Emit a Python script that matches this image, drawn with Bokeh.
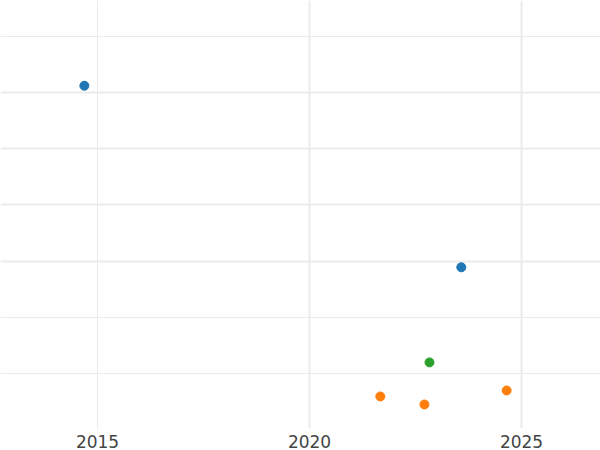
from bokeh.plotting import figure
from bokeh.models import Range1d, FixedTicker, Grid
from bokeh.embed import file_html
from bokeh.resources import INLINE

# data
blue_x = [2014.69, 2023.58]
blue_y = [6.125, 2.89]
orange_x = [2021.67, 2022.71, 2024.65]
orange_y = [0.589, 0.446, 0.696]
green_x = [2022.83]
green_y = [1.196]
x_ticks = [2015, 2020, 2025]
x_major_grid = [2020, 2025]
x_minor_grid = [2015]
y_major_grid = [3, 4, 5, 6]
y_minor_grid = [1, 2, 7]

p = figure(width=600, height=450, output_backend="svg", toolbar_location=None,
           x_range=Range1d(2012.712, 2026.863), y_range=Range1d(0.018, 7.643),
           min_border_left=0, min_border_right=0, min_border_top=0, min_border_bottom=0,
           outline_line_color=None)
p.yaxis.visible = False
p.xgrid.visible = False
p.ygrid.visible = False

for ticks, w, dim in [(x_major_grid, 2, 0), (x_minor_grid, 1, 0), (y_major_grid, 2, 1), (y_minor_grid, 1, 1)]:
    g = Grid(dimension=dim, ticker=FixedTicker(ticks=ticks), grid_line_color="#ebebeb", grid_line_width=w)
    p.add_layout(g)

ax = p.xaxis[0]
ax.ticker = FixedTicker(ticks=x_ticks)
ax.axis_line_color = None
ax.major_tick_line_color = None
ax.minor_tick_line_color = None
ax.major_tick_out = 0
ax.major_tick_in = 0
ax.major_label_standoff = 6
ax.major_label_text_font = "DejaVu Sans"
ax.major_label_text_font_size = "17px"
ax.major_label_text_color = "#444444"

p.scatter(blue_x, blue_y, size=9, color="#1f77b4")
p.scatter(orange_x, orange_y, size=9, color="#ff7f0e")
p.scatter(green_x, green_y, size=9, color="#2ca02c")

open("out.html", "w").write(file_html(p, INLINE))
